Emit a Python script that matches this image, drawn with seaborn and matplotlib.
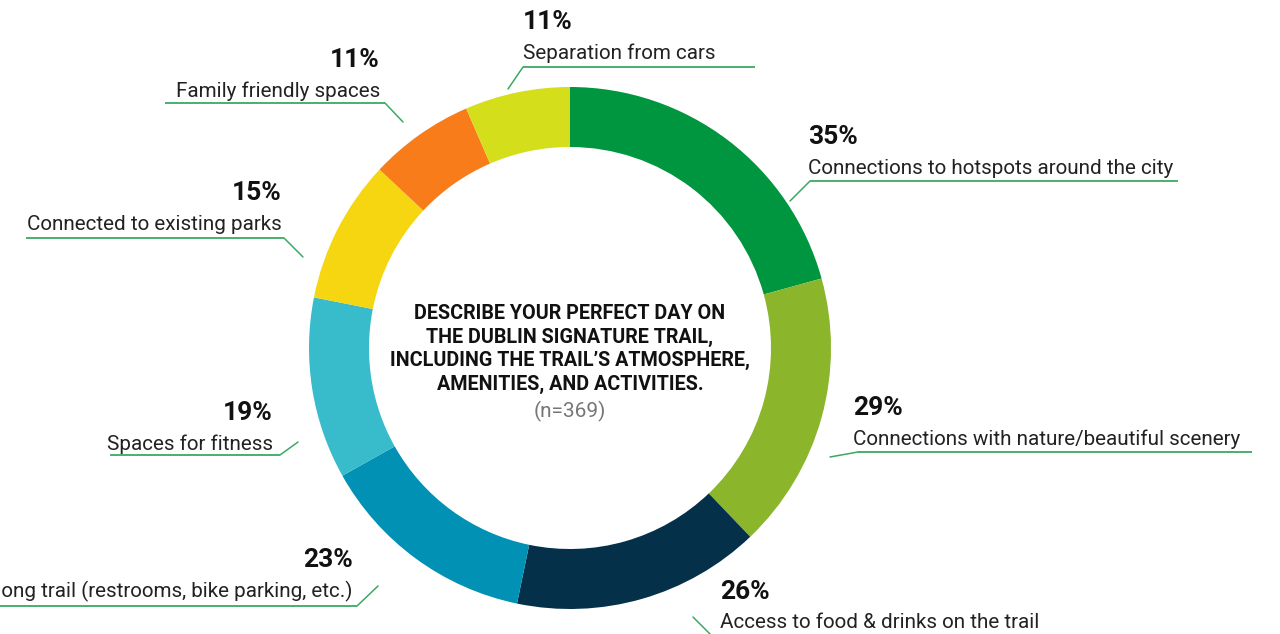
import matplotlib
matplotlib.use("Agg")
import matplotlib.pyplot as plt
import seaborn as sns

# Survey answers (share of respondents, %)
categories = [
    "Connections to hotspots around the city",
    "Connections with nature/beautiful scenery",
    "Access to food & drinks on the trail",
    "Amenities along trail (restrooms, bike parking, etc.)",
    "Spaces for fitness",
    "Connected to existing parks",
    "Family friendly spaces",
    "Separation from cars",
]
shares = [35, 29, 26, 23, 19, 15, 11, 11]
colors = ["#00963f", "#8bb52b", "#05304a", "#0091b5", "#38bbcb",
          "#f6d511", "#f87c1a", "#d4de1b"]

title_lines = ("DESCRIBE YOUR PERFECT DAY ON\nTHE DUBLIN SIGNATURE TRAIL,\n"
               "INCLUDING THE TRAIL\u2019S ATMOSPHERE,\nAMENITIES, AND ACTIVITIES.")
sample_note = "(n=369)"

# label layout in pixels (top-left origin):
# text x, percent y, align, underline x0, x1, y, leader end x, y
layout = [
    (808, 137, "left", 810, 1178, 181, 790, 201),
    (853, 408, "left", 858, 1252, 452, 830, 457),
    (720, 592, "left", 717, 1045, 641, 693, 617),
    (353, 560, "right", 0, 357, 606, 378, 586),
    (273, 413, "right", 110, 280, 455, 298, 442),
    (282, 193, "right", 26, 284, 238, 303, 257),
    (380, 60, "right", 165, 385, 103, 403, 122),
    (523, 22, "left", 523, 755, 67, 508, 89),
]

W, H = 1280, 634
CX, CY = 570, 348

sns.set_theme(style="white")
plt.rcParams["font.family"] = ["Roboto", "DejaVu Sans"]

fig = plt.figure(figsize=(12.8, 6.34), dpi=100)
ax = fig.add_axes([0, 0, 1, 1])

ax.pie(shares, colors=colors, startangle=90, counterclock=False,
       radius=261, center=(CX, H - CY),
       wedgeprops=dict(width=60, linewidth=0))
ax.set_xlim(0, W)
ax.set_ylim(0, H)
ax.set_aspect("equal")
ax.axis("off")

line_col = "#3aaa62"
for cat, val, (tx, py, ha, ux0, ux1, uy, lx, ly) in zip(categories, shares, layout):
    ax.text(tx, H - py, f"{val}%", ha=ha, va="center", fontsize=19,
            fontweight="bold", color="#111111")
    ax.text(tx, H - (py + 31), cat, ha=ha, va="center", fontsize=14.9,
            color="#222222")
    ax.plot([ux0, ux1], [H - uy, H - uy], color=line_col, lw=1.3,
            solid_capstyle="butt")
    start = ux0 if ha == "left" else ux1
    ax.plot([start, lx], [H - uy, H - ly], color=line_col, lw=1.1)

ax.text(CX, H - 349, title_lines, ha="center", va="center", fontsize=14.2,
        fontweight="bold", color="#111111", linespacing=1.3)
ax.text(CX, H - 411, sample_note, ha="center", va="center", fontsize=15,
        color="#777777")

fig.savefig("out.png", dpi=100)
